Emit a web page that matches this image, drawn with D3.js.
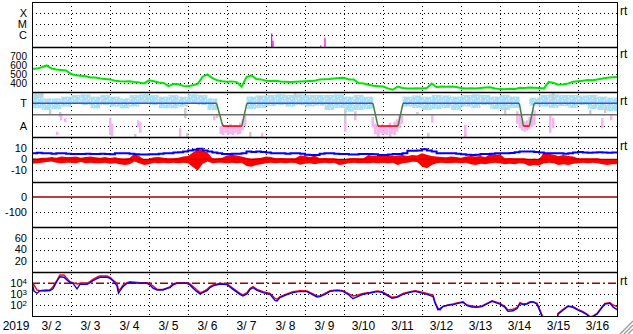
<!DOCTYPE html>
<html>
<head>
<meta charset="utf-8">
<script src="https://cdn.jsdelivr.net/npm/d3@7/dist/d3.min.js"></script>
<style>
body { margin: 0; background: #fff; }
svg text { font-family: "Liberation Sans", Arial, sans-serif; font-size: 12px; fill: #000; }
svg text.ylab { font-size: 11px; }
svg text.small { font-size: 10px; }
</style>
</head>
<body>
<div id="chart"></div>
<script>
// hours since 2019-03-02 00:00 UT, 3-hourly samples unless noted
var speedKms = [
    555, 560, 575, 595, 560, 550, 545, 540, 500, 485,
    480, 475, 462, 460, 450, 445, 440, 425, 420, 418,
    420, 410, 405, 395, 430, 420, 405, 400, 365, 390,
    385, 368, 365, 375, 390, 470, 495, 455, 430, 420,
    415, 418, 410, 360, 465, 485, 445, 440, 425, 422,
    425, 418, 415, 412, 415, 418, 420, 422, 425, 440,
    442, 445, 450, 455, 458, 440, 438, 400, 395, 380,
    370, 365, 360, 340, 325, 360, 345, 340, 340, 342,
    340, 345, 395, 352, 360, 358, 360, 355, 345, 340,
    342, 340, 345, 350, 352, 340, 332, 330, 335, 332,
    348, 345, 350, 348, 345, 340, 412, 400, 380, 385,
    395, 415, 420, 425, 432, 430, 440, 450, 458, 465,
    468];

var btNt = [
    5.4, 5.8, 5.4, 5.4, 5, 5.4, 5.4, 5, 4.8, 4.8,
    4.8, 5, 4.8, 4.8, 5, 4.8, 4.5, 5.4, 5.4, 5.4,
    5, 4.5, 4.2, 4.2, 4.5, 4.5, 5, 5.4, 5.4, 6,
    6.4, 7, 8, 8.5, 9.5, 8, 7, 6, 5.4, 4.8,
    4.8, 5, 5, 5.4, 6.9, 6.5, 6.9, 6.5, 6, 5.4,
    5.4, 5.4, 5, 5.4, 5.4, 5, 4, 3.9, 3.9, 5,
    5.4, 5.4, 5, 4.8, 4.8, 4.2, 4.2, 4.8, 4.8, 4.8,
    4.5, 3.9, 3.9, 4.2, 4.8, 4.8, 5.4, 7.7, 7.7, 8,
    9, 8, 7, 5.4, 5.4, 5.4, 5.4, 5, 4.5, 4,
    3.9, 4, 4.8, 4.8, 5, 5.4, 5.4, 5.4, 5.6, 6.4,
    6.9, 6.9, 6.9, 6.5, 6, 5.4, 5.4, 5.4, 5.4, 5,
    5.4, 6, 6.5, 6, 5.8, 6, 6.4, 6, 5.8, 6,
    6];

// Bz spread within each 3 h bin (max / min)
var bzHi = [
    1, 0.5, 1.5, 1.5, 2, 1.5, 2.5, 2, 2, 2.5,
    1.5, 2, 2.5, 1.8, 1.5, 2, 1.2, 1.8, 1, 0.8,
    1.2, 5, 3, -0.5, 0.5, 1.8, 2, 1.5, 1, 0.9,
    1.5, 2.4, 3, 6, 9, 8, 6, 1, 0.9, 1.5,
    3.5, 4, 3.5, 2.5, 1.3, 0.5, 1, 1.3, 2.4, 2,
    0.9, 1.2, 0.9, 1, 0.9, 3.5, 3, 2, 3.5, 0.9,
    1.2, 0.9, 1, 0, -0.5, 0.9, 1.2, 0.9, 1, 3.9,
    3, 3.5, 3.9, 3.9, 3, 3.5, 3.9, 3, 3.9, 3.5,
    5.4, 4, 3, 2.4, 2, 1.8, 2.4, 2, 1.5, 2.4,
    3, 2.4, 3, 2, 4.8, 4, 4.5, 0.9, 1.2, 0.9,
    1, 0.9, 0, 0.5, 0, 6, 5, 4, 3, 3.9,
    3, 2.4, 0.9, 1, 0.9, 1, 0.9, 0, -0.5, 0,
    -0.6];
var bzLo = [
    -4, -3.5, -3, -2.5, -2, -3, -3.5, -3, -3, -3.5,
    -2.5, -3.6, -3, -3.5, -3.6, -3, -4, -3.5, -4.5, -5,
    -4.5, -2, -3.6, -5, -4.5, -3, -3.6, -3, -3.6, -3,
    -3.6, -3, -3.6, -7, -10, -4, -2, -3.6, -3, -3,
    -3.6, -3, -3.6, -3, -6, -6.6, -5, -4.5, -3.6, -3,
    -3.6, -3, -3.6, -3, -3.3, -4.8, -4, -3.6, -4.5, -3.6,
    -3, -3.6, -3, -5, -4.5, -3.6, -3, -3.6, -3.3, -3.6,
    -3, -3.6, -3, -3.6, -3, -5, -3.6, -3, -2.1, -2.5,
    -6.5, -8, -5, -3.6, -3, -3.6, -3.3, -3, -3.6, -3,
    -4.5, -5.1, -4, -4.5, -3.6, -3, -3.6, -4.5, -4, -4.5,
    -3.6, -4, -6, -5, -5.5, -3.6, -3, -3.6, -5.1, -4.5,
    -5, -4, -3.6, -3, -3.6, -3, -3.6, -4.5, -5, -4.5,
    -4.5];

// X-ray flares [hour, flux W/m2]
var xrayFlares = [[147.5, 1.4e-6], [148.3, 3e-7], [177.7, 1.1e-7], [180.3, 5.7e-7]];

// IMF sector: 3 = toward, 1 = away
var sectorLine = [[0, 3], [113.6, 3], [117.4, 1], [129.1, 1], [132.2, 3], [209.8, 3], [212.9, 1],
    [225.2, 1], [228.3, 3], [299.9, 3], [302.4, 1], [306.1, 1], [309, 3], [360, 3]];

// 6 h bins of the light blue scatter (null = no points)
var phiLo = [
    2.56, 2.41, 2.5, 2.71, 3.0, 2.85, 2.56, 2.85, 2.71, 2.56,
    2.71, 3.0, 2.85, 2.56, 2.56, 2.71, 3.0, 2.85, 2.41, null,
    null, null, 2.5, 2.6, 2.75, 2.85, 2.71, 2.85, 2.71, 2.8,
    2.41, 2.6, 2.27, 2.41, 2.5, null, null, null, 2.71, 2.6,
    2.41, 2.5, 2.6, 2.41, 2.71, 2.6, 2.85, 2.5, 2.41, 2.6,
    null, 2.8, 2.71, 2.6, 2.75, 2.6, 2.85, 2.5, 2.41, 2.3];
var phiHi = [
    3.88, 3.44, 3.44, 3.59, 3.73, 3.8, 3.59, 3.73, 3.59, 3.44,
    3.73, 3.8, 3.73, 3.59, 3.73, 3.59, 3.8, 3.73, 3.44, null,
    null, null, 3.6, 3.7, 3.74, 3.8, 3.74, 3.8, 3.74, 3.74,
    3.74, 3.8, 3.6, 3.74, 3.59, null, null, null, 3.59, 3.7,
    3.59, 3.74, 3.7, 3.6, 3.74, 3.8, 3.74, 3.6, 3.74, 3.6,
    null, 3.5, 3.74, 3.8, 3.74, 3.74, 3.7, 3.74, 3.6, 3.5];

// [hour, lo, hi]
var phiGray = [[2.5, 3.47, 4.0], [6.2, 3.5, 3.95], [11, 2.06, 2.41], [17.2, 1.8, 2.24], [48, 0.2, 0.83],
    [63.4, 0.05, 0.3], [94.2, 1.7, 2.6], [95.4, 0.05, 0.4], [113.8, 1.7, 1.97], [134.2, 0.05, 0.48],
    [140.3, 3.3, 3.65], [161.8, 3.56, 3.9], [192.6, 1.25, 2.41], [198.8, 1.97, 2.3], [213, 0.05, 0.48],
    [220.3, 0.05, 0.83], [237, 1.97, 2.24], [243.7, 0.05, 0.4], [266.5, 0.05, 0.4], [291, 1.97, 2.6],
    [300.3, 1.5, 1.97], [320.6, 3.3, 3.9], [343.4, 1.97, 2.41], [352.6, 2.15, 2.68]];
var phiPink = [[15.4, 0.2, 0.5], [17.8, 1.5, 2.1], [20.3, 1.35, 1.7], [48, 0.4, 1.7], [49.2, 0.1, 1.2],
    [65.2, 0.9, 1.5], [66.5, 0.4, 1.35], [91, 0.05, 0.8], [112, 1.5, 1.9],
    [116, 0.3, 1.0], [117.5, 0.2, 1.2], [119, 0.4, 1.1], [120.5, 0.2, 0.9], [122, 0.3, 1.2],
    [123.5, 0.2, 1.0], [125, 0.4, 1.1], [126.5, 0.25, 1.0], [128, 0.3, 1.3], [129.5, 0.6, 1.6],
    [131, 1.0, 2.0], [141.5, 0.05, 0.4], [192.6, 0.5, 1.3], [198.8, 1.5, 2.0],
    [209.5, 0.9, 1.8], [211, 0.3, 1.2], [212.5, 0.2, 1.1], [214, 0.4, 1.0], [215.5, 0.2, 1.2],
    [217, 0.3, 1.0], [218.5, 0.2, 1.1], [220, 0.4, 1.3], [221.5, 0.3, 1.0], [223, 0.2, 1.4],
    [224.5, 0.5, 1.6], [226, 0.8, 2.0], [227.5, 1.2, 1.9], [246.2, 1.3, 1.95], [266.5, 0.05, 1.1],
    [298.5, 1.2, 2.3], [300, 0.8, 1.9], [301.5, 0.6, 1.6], [303, 0.5, 1.4], [304.5, 0.6, 1.5],
    [306, 0.7, 1.8], [307.5, 0.9, 2.1], [309, 1.1, 2.4], [318.8, 0.4, 1.95], [320.6, 0.8, 1.7],
    [350.8, 0.8, 1.7], [356.3, 1.5, 1.95]];

// >2 MeV electron flux, log10 values
var fluxHours = [0, 1.2, 3.1, 4.9, 8, 11.1, 12.9, 15.4, 17.2, 19.7,
    21.5, 23.4, 25.2, 27.7, 29.5, 33.8, 35.7, 37.5, 40, 41.8,
    46.2, 48, 49.8, 52.3, 53.2, 54.2, 56, 58.5, 60.3, 66.5,
    70.8, 72.6, 74.5, 76.9, 80.6, 83.1, 84.9, 86.8, 89.2, 95.4,
    97.2, 99.1, 101.5, 103.4, 105.2, 107.7, 109.5, 111.4, 115.7, 120,
    123.7, 128, 129.8, 132.3, 134.2, 136, 138.5, 142.2, 146.5, 149.5,
    150.8, 152.6, 156.9, 160.6, 164.9, 169.2, 172.3, 175.4, 177.2, 180.3,
    183.4, 187.7, 191.4, 194.5, 197.5, 200.6, 203.7, 208, 212.3, 215.4,
    218.5, 221.5, 224.6, 228.3, 232.6, 235.7, 238.8, 243.1, 246.8, 248,
    249.8, 251.1, 252.9, 256, 259.1, 262.2, 265.2, 267.7, 270.8, 273.8,
    276.9, 280, 283.1, 284.9, 288, 291.1, 292.9, 296, 298.5, 300.3,
    302.2, 304.6, 306.5, 308.3, 310.8, 312.6, 313.8, 315.1, 318.8, 323,
    323.7, 326.8, 329.8, 332.9, 336, 339.1, 341.5, 343.4, 345.2, 347.7,
    350.8, 352.6, 355.7, 357.5, 360];
var fluxRedLog = [4.15, 3.85, 3.39, 3.33, 3.39, 3.39, 3.70, 4.30, 4.76, 4.76,
    4.45, 4.15, 4.06, 3.94, 4.0, 4.0, 4.15, 4.36, 4.55, 4.67,
    4.67, 4.55, 4.30, 4.0, 3.39, 3.45, 3.85, 4.06, 4.15, 4.06,
    4.06, 3.94, 3.76, 3.45, 3.45, 3.55, 3.70, 3.94, 4.06, 4.06,
    3.94, 3.70, 3.39, 3.15, 3.24, 3.45, 3.70, 3.85, 4.0, 3.94,
    3.55, 3.09, 2.94, 3.15, 3.55, 3.70, 3.45, 3.24, 3.09, 2.64,
    2.55, 2.79, 3.03, 3.24, 3.33, 3.30, 3.09, 2.85, 2.85, 3.09,
    3.33, 3.39, 3.33, 3.09, 2.85, 2.94, 3.09, 3.18, 3.30, 3.24,
    3.0, 2.73, 2.79, 3.09, 3.24, 3.33, 3.24, 3.09, 2.94, 2.33,
    1.73, 1.58, 1.88, 2.03, 2.12, 2.24, 2.33, 2.03, 1.94, 1.88,
    1.94, 2.18, 2.42, 2.33, 2.18, 1.88, 1.58, 1.64, 1.79, 2.24,
    2.12, 2.18, 2.33, 2.33, 2.18, 1.58, 1.12, 0.82, 0.5, 0.6,
    1.27, 1.64, 1.94, 1.88, 1.64, 1.42, 1.21, 0.97, 1.03, 1.27,
    1.88, 2.18, 2.24, 2.03, 1.88];
var fluxBlueLog = [4.15, 3.3, 3.1, 3.33, 3.3, 3.35, 3.5, 4.2, 4.6, 4.55,
    4.3, 4.06, 4.0, 3.5, 3.9, 3.9, 4.06, 4.24, 4.42, 4.55,
    4.55, 4.45, 4.24, 3.76, 3.1, 3.33, 3.7, 4.0, 4.06, 4.0,
    4.0, 3.85, 3.55, 3.39, 3.39, 3.55, 3.6, 3.85, 4.0, 4.0,
    3.85, 3.55, 3.24, 3.03, 3.15, 3.33, 3.6, 3.76, 3.94, 3.88,
    3.45, 3.0, 2.85, 3.03, 3.45, 3.6, 3.35, 3.15, 3.0, 2.45,
    2.4, 2.7, 2.97, 3.15, 3.27, 3.24, 3.0, 2.76, 2.79, 3.0,
    3.27, 3.33, 3.27, 3.0, 2.6, 2.82, 3.0, 3.12, 3.24, 3.18,
    2.9, 2.64, 2.73, 3.0, 3.18, 3.27, 3.15, 3.0, 2.79, 2.2,
    1.6, 1.7, 1.9, 2.0, 2.06, 2.18, 2.27, 1.97, 1.85, 1.82,
    1.88, 2.12, 2.36, 2.27, 2.1, 1.8, 1.45, 1.5, 1.7, 2.15,
    2.06, 2.12, 2.27, 2.3, 2.1, 1.45, 1.0, 0.7, 0.5, 0.6,
    1.2, 1.55, 1.9, 1.82, 1.55, 1.35, 1.15, 0.9, 1.0, 1.2,
    1.8, 2.12, 2.18, 1.85, 1.6];

var dayLabels = ["3/ 2", "3/ 3", "3/ 4", "3/ 5", "3/ 6", "3/ 7", "3/ 8", "3/ 9",
    "3/10", "3/11", "3/12", "3/13", "3/14", "3/15", "3/16"];
var yearLabel = "2019";
var xrayTicks = [1e-4, 1e-5, 1e-6], xrayLabels = ["X", "M", "C"];
var speedTicks = [700, 600, 500, 400];
var sectorTicks = [3, 1], sectorLabels = ["T", "A"];
var bTicks = [10, 0, -10];
var dstTicks = [0, -100];
var kpTicks = [60, 40, 20];
var fluxTicks = [1e4, 1e3, 1e2];

var width = 633, height = 334;
var left = 32, right = 617;
var tops = [2, 47, 92, 137, 182, 227, 272], bottom = 316;

var svg = d3.select("#chart").append("svg")
    .attr("width", width)
    .attr("height", height);

var x = d3.scaleLinear().domain([0, 360]).range([left, right]);

var yX = d3.scaleLog().domain([1e-7, 1e-3]).range([46, 2]);
var ySpeed = d3.scaleLinear().domain([300, 800]).range([92, 47]);
var ySector = d3.scaleLinear().domain([0, 4]).range([137.4, 92]);
var yB = d3.scaleLinear().domain([-20, 20]).range([181.6, 137]);
var yDst = d3.scaleLinear().domain([-200, 100]).range([227, 182]);
var yKp = d3.scaleLinear().domain([0, 80]).range([272, 227]);
var yFlux = d3.scaleLog().domain([10, 1e5]).range([316.3, 272.3]);

// one clip per panel
var defs = svg.append("defs");
tops.forEach(function (t, i) {
    var b = i < tops.length - 1 ? tops[i + 1] : bottom;
    defs.append("clipPath").attr("id", "clip" + i)
        .append("rect")
        .attr("x", left).attr("y", t)
        .attr("width", right - left).attr("height", b - t);
});

// speckled fill for the light blue scatter band
var pat = defs.append("pattern")
    .attr("id", "speckle")
    .attr("patternUnits", "userSpaceOnUse")
    .attr("width", 7).attr("height", 6);
pat.append("rect").attr("width", 7).attr("height", 6).attr("fill", "#a8e0f6");
[[1, 0, "#e4f6fc"], [4, 2, "#fff"], [2, 4, "#e4f6fc"], [5, 5, "#d0d0d0"], [0, 2, "#94d6f0"]]
    .forEach(function (p) {
        pat.append("rect").attr("x", p[0]).attr("y", p[1]).attr("width", 1).attr("height", 1).attr("fill", p[2]);
    });

function px(v) {
    return Math.round(v) + 0.5;
}

// dotted grid
function hGrid(scale, ticks) {
    svg.append("g").selectAll("line")
        .data(ticks)
        .enter().append("line")
        .attr("x1", left).attr("x2", right)
        .attr("y1", function (d) { return px(scale(d)); })
        .attr("y2", function (d) { return px(scale(d)); })
        .attr("stroke", "#000")
        .attr("stroke-dasharray", "1,3");
}
hGrid(yX, xrayTicks);
hGrid(ySpeed, speedTicks);
hGrid(ySector, [1]);
hGrid(yB, [10, -10]);
hGrid(yDst, [-100]);
hGrid(yKp, kpTicks);
hGrid(yFlux, [1e3, 1e2]);

svg.append("g").selectAll("line")
    .data(d3.range(1, 15))
    .enter().append("line")
    .attr("x1", function (d) { return px(x(d * 24)); })
    .attr("x2", function (d) { return px(x(d * 24)); })
    .attr("y1", tops[0]).attr("y2", bottom)
    .attr("stroke", "#000")
    .attr("stroke-dasharray", "1,3");

// X-ray
svg.append("g").attr("clip-path", "url(#clip0)")
    .selectAll("line")
    .data(xrayFlares)
    .enter().append("line")
    .attr("x1", function (d) { return x(d[0]); })
    .attr("x2", function (d) { return x(d[0]); })
    .attr("y1", tops[1])
    .attr("y2", function (d) { return yX(d[1]); })
    .attr("stroke", "#e000e0")
    .attr("stroke-width", 1.2);

// solar wind speed
svg.append("path")
    .datum(speedKms)
    .attr("clip-path", "url(#clip1)")
    .attr("fill", "none")
    .attr("stroke", "#00e600")
    .attr("stroke-width", 2)
    .attr("d", d3.line()
        .x(function (d, i) { return x(i * 3); })
        .y(function (d) { return ySpeed(d); }));

// sector panel
var g3 = svg.append("g").attr("clip-path", "url(#clip2)");
g3.selectAll("rect.band")
    .data(phiLo.map(function (d, i) { return [i * 6, d, phiHi[i]]; })
        .filter(function (d) { return d[1] != null; }))
    .enter().append("rect")
    .attr("class", "band")
    .attr("x", function (d) { return x(d[0]); })
    .attr("width", function (d) { return x(d[0] + 6) - x(d[0]); })
    .attr("y", function (d) { return ySector(d[2]); })
    .attr("height", function (d) { return ySector(d[1]) - ySector(d[2]); })
    .attr("fill", "url(#speckle)");

function bars(data, color) {
    g3.append("g").selectAll("rect")
        .data(data)
        .enter().append("rect")
        .attr("x", function (d) { return x(d[0]) - 1; })
        .attr("width", 2.5)
        .attr("y", function (d) { return ySector(d[2]); })
        .attr("height", function (d) { return ySector(d[1]) - ySector(d[2]); })
        .attr("fill", color);
}
bars(phiGray, "#cccccc");
bars(phiPink, "#f6b4f0");

g3.append("line")
    .attr("x1", left).attr("x2", right)
    .attr("y1", ySector(2)).attr("y2", ySector(2))
    .attr("stroke", "#707070")
    .attr("stroke-width", 1.5);

g3.selectAll("line.sector")
    .data(d3.pairs(sectorLine))
    .enter().append("line")
    .attr("class", "sector")
    .attr("x1", function (d) { return x(d[0][0]); })
    .attr("x2", function (d) { return x(d[1][0]); })
    .attr("y1", function (d) { return ySector(d[0][1]); })
    .attr("y2", function (d) { return ySector(d[1][1]); })
    .attr("stroke", function (d) {
        if (d[0][1] != d[1][1]) return "#3f7f3f";
        return d[0][1] == 3 ? "#3c50e0" : "#e00000";
    })
    .attr("stroke-width", 1.5);

// IMF Bt / Bz
var g4 = svg.append("g").attr("clip-path", "url(#clip3)");
g4.append("path")
    .datum(bzHi)
    .attr("fill", "#ff0000")
    .attr("d", d3.area()
        .x(function (d, i) { return x(i * 3); })
        .y0(function (d, i) { return yB(bzLo[i]); })
        .y1(function (d) { return yB(d); }));
g4.append("line")
    .attr("x1", left).attr("x2", right)
    .attr("y1", yB(0)).attr("y2", yB(0))
    .attr("stroke", "#a00000")
    .attr("stroke-width", 1.2);
g4.append("path")
    .datum(btNt)
    .attr("fill", "none")
    .attr("stroke", "#0000ff")
    .attr("stroke-width", 2)
    .attr("d", d3.line()
        .curve(d3.curveStepAfter)
        .x(function (d, i) { return x(i * 3); })
        .y(function (d) { return yB(d); }));

// Dst zero line
svg.append("line")
    .attr("x1", left).attr("x2", right)
    .attr("y1", yDst(0)).attr("y2", yDst(0))
    .attr("stroke", "#a00000")
    .attr("stroke-width", 1.5);

// electron flux
var g7 = svg.append("g").attr("clip-path", "url(#clip6)");
g7.append("line")
    .attr("x1", left).attr("x2", right)
    .attr("y1", yFlux(1e4)).attr("y2", yFlux(1e4))
    .attr("stroke", "#a00000")
    .attr("stroke-width", 1.5)
    .attr("stroke-dasharray", "8,3,2,3");
[[fluxRedLog, "#ff0000"], [fluxBlueLog, "#0000ff"]].forEach(function (s) {
    g7.append("path")
        .datum(s[0])
        .attr("fill", "none")
        .attr("stroke", s[1])
        .attr("stroke-width", 1.4)
        .attr("d", d3.line()
            .x(function (d, i) { return x(fluxHours[i]); })
            .y(function (d) { return yFlux(Math.pow(10, d)); }));
});

// frame and panel separators
svg.append("rect")
    .attr("x", left + 0.5).attr("y", tops[0] + 0.5)
    .attr("width", right - left).attr("height", bottom - tops[0])
    .attr("fill", "none")
    .attr("stroke", "#000");
svg.append("g").selectAll("line")
    .data(tops.slice(1))
    .enter().append("line")
    .attr("x1", left).attr("x2", right)
    .attr("y1", function (d) { return d + 0.5; })
    .attr("y2", function (d) { return d + 0.5; })
    .attr("stroke", "#000")
    .attr("stroke-width", 1.5);

// y labels
function yLabels(scale, ticks, labels, cls) {
    svg.append("g").selectAll("text")
        .data(ticks)
        .enter().append("text")
        .attr("class", cls || "ylab")
        .attr("x", 27)
        .attr("y", function (d) { return scale(d); })
        .attr("dy", "0.36em")
        .attr("text-anchor", "end")
        .text(function (d, i) { return labels ? labels[i] : d; });
}
yLabels(yX, xrayTicks, xrayLabels);
yLabels(ySpeed, speedTicks, null, "small");
yLabels(ySector, sectorTicks, sectorLabels);
yLabels(yB, bTicks);
yLabels(yDst, dstTicks);
yLabels(yKp, kpTicks);

var fl = svg.append("g").selectAll("text")
    .data(fluxTicks)
    .enter().append("text")
    .attr("class", "ylab")
    .attr("x", 27)
    .attr("y", function (d) { return yFlux(d); })
    .attr("dy", "0.36em")
    .attr("text-anchor", "end");
fl.append("tspan").text("10");
fl.append("tspan")
    .attr("dy", "-0.45em")
    .style("font-size", "8px")
    .text(function (d) { return Math.round(Math.log10(d)); });

// realtime marks
svg.append("g").selectAll("text")
    .data([yX(1e-4), ySpeed(700), ySector(3), yB(10), yFlux(1e4)])
    .enter().append("text")
    .attr("x", 620)
    .attr("y", function (d) { return d + 2; })
    .text("rt");

// x labels
svg.append("g").selectAll("text")
    .data(dayLabels)
    .enter().append("text")
    .attr("x", function (d, i) { return x(i * 24 + 12); })
    .attr("y", 330)
    .attr("text-anchor", "middle")
    .style("white-space", "pre")
    .text(function (d) { return d; });
svg.append("text")
    .attr("x", 16)
    .attr("y", 330)
    .attr("text-anchor", "middle")
    .text(yearLabel);

// window resize grip
svg.append("g").selectAll("line")
    .data([0, 4, 8])
    .enter().append("line")
    .attr("x1", 633).attr("y1", function (d) { return 321 + d; })
    .attr("x2", function (d) { return 620 + d; }).attr("y2", 334)
    .attr("stroke", "#a0a0a0")
    .attr("stroke-width", 1.5);
</script>
</body>
</html>
